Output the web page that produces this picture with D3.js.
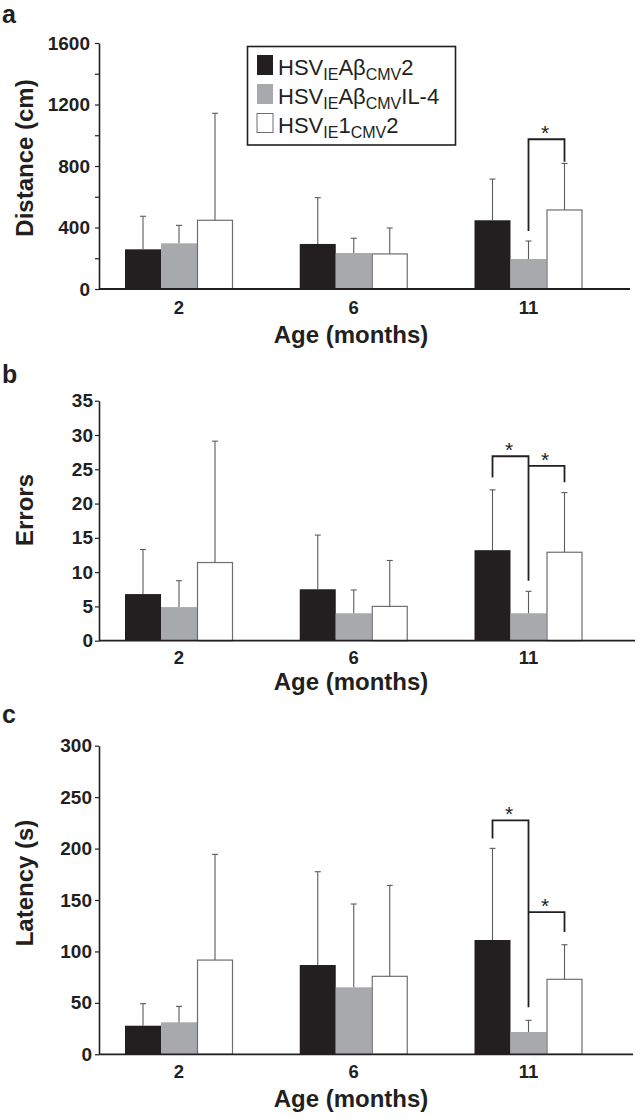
<!DOCTYPE html>
<html><head><meta charset="utf-8">
<script src="https://cdn.jsdelivr.net/npm/d3@7"></script>
<style>
body{margin:0;background:#fff}
svg{display:block}
text{font-family:"Liberation Sans",Arial,Helvetica,sans-serif;fill:#231f20}
</style>
</head><body>
<svg id="chart" width="640" height="1119"></svg>
<script>
// ---------------- data ----------------
const ages = ["2", "6", "11"];
const seriesColors = ["#231f20", "#a7a9ac", "#ffffff"];
// legend labels: [text, isSubscript]
const legendLabels = [
  [["HSV", 0], ["IE", 1], ["Aβ", 0], ["CMV", 1], ["2", 0]],
  [["HSV", 0], ["IE", 1], ["Aβ", 0], ["CMV", 1], ["IL-4", 0]],
  [["HSV", 0], ["IE", 1], ["1", 0], ["CMV", 1], ["2", 0]]
];

// Panel a — Distance (cm); rows = series, columns = ages
const distanceMean = [[258, 293, 447], [297, 234, 195], [447, 228, 514]];
const distanceSD   = [[215, 301, 268], [117, 96, 117], [696, 169, 303]];
const distanceTicks = [0, 200, 400, 600, 800, 1000, 1200, 1400, 1600];
const distanceLabeled = [0, 400, 800, 1200, 1600];
const distanceSig = [{age: "11", from: 1, to: 2, top: 974, legs: [377, 828]}];

// Panel b — Errors
const errorsMean = [[6.8, 7.5, 13.2], [4.9, 4.0, 4.0], [11.4, 5.0, 12.9]];
const errorsSD   = [[6.5, 7.9, 8.8], [3.85, 3.4, 3.2], [17.7, 6.7, 8.7]];
const errorsTicks = [0, 5, 10, 15, 20, 25, 30, 35];
const errorsSig = [
  {age: "11", from: 0, to: 1, top: 26.9, legs: [23.8, 8.75]},
  {age: "11", from: 1, to: 2, top: 25.5, legs: [25.5, 23.1]}
];

// Panel c — Latency (s)
const latencyMean = [[27.8, 86.8, 111.1], [31.1, 65.1, 21.7], [91.6, 75.8, 72.9]];
const latencySD   = [[21.4, 90.7, 89.1], [15.5, 81.0, 11.3], [102.8, 88.4, 33.6]];
const latencyTicks = [0, 50, 100, 150, 200, 250, 300];
const latencySig = [
  {age: "11", from: 0, to: 1, top: 227.4, legs: [209.9, 45.7]},
  {age: "11", from: 1, to: 2, top: 138.3, legs: [138.3, 118.9]}
];

// ---------------- layout ----------------
const svg = d3.select("#chart");
svg.append("rect").attr("width", 640).attr("height", 1119).attr("fill", "#fff");

const axisX = 99;
const x = d3.scaleBand().domain(ages).range([125, 582.5]).paddingInner(0.382).paddingOuter(0);
const xInner = d3.scaleBand().domain(d3.range(3)).range([0, x.bandwidth()]);

const panels = [
  {letter: "a", letterY: 23, title: "Distance (cm)", titleY: 158,
   mean: distanceMean, sd: distanceSD, max: 1600, ticks: distanceTicks,
   labeled: distanceLabeled, sig: distanceSig, top: 43, bottom: 289, xEnd: 630,
   tickPad: 5, xLabPad: 12, ageY: 342.7, legend: true},
  {letter: "b", letterY: 383, title: "Errors", titleY: 510,
   mean: errorsMean, sd: errorsSD, max: 35, ticks: errorsTicks,
   labeled: errorsTicks, sig: errorsSig, top: 400.7, bottom: 640.7, xEnd: 635,
   tickPad: 2, xLabPad: 10, ageY: 690},
  {letter: "c", letterY: 723, title: "Latency (s)", titleY: 883,
   mean: latencyMean, sd: latencySD, max: 300, ticks: latencyTicks,
   labeled: latencyTicks, sig: latencySig, top: 745.7, bottom: 1054.3, xEnd: 633,
   tickPad: 3, xLabPad: 11, ageY: 1106.5}
];

panels.forEach(p => {
  const g = svg.append("g");
  const y = d3.scaleLinear().domain([0, p.max]).range([p.bottom, p.top]);

  // panel letter
  g.append("text").attr("x", 2).attr("y", p.letterY)
    .attr("font-size", 25).attr("font-weight", "bold").text(p.letter);

  // y title
  g.append("text")
    .attr("transform", `translate(33,${p.titleY}) rotate(-90)`)
    .attr("text-anchor", "middle").attr("font-size", 24).attr("font-weight", "bold")
    .text(p.title);

  // bars
  const data = [];
  p.mean.forEach((row, si) => row.forEach((v, ai) => data.push({s: si, age: ages[ai], v, sd: p.sd[si][ai]})));

  g.selectAll("rect.bar").data(data).join("rect")
    .attr("class", "bar")
    .attr("x", d => x(d.age) + xInner(d.s) + (d.s === 2 ? 0.5 : 0))
    .attr("width", d => xInner.bandwidth() - (d.s === 2 ? 1 : 0))
    .attr("y", d => y(d.v))
    .attr("height", d => y(0) - y(d.v))
    .attr("fill", d => seriesColors[d.s])
    .attr("stroke", d => d.s === 2 ? "#6d6e70" : "none")
    .attr("stroke-width", 1.2);

  // error bars
  const eb = g.selectAll("g.eb").data(data).join("g").attr("class", "eb")
    .attr("stroke", "#5a5b5d").attr("stroke-width", 1.1);
  const cx = d => x(d.age) + xInner(d.s) + xInner.bandwidth() / 2;
  eb.append("line").attr("x1", cx).attr("x2", cx)
    .attr("y1", d => y(d.v)).attr("y2", d => y(d.v + d.sd));
  eb.append("line").attr("x1", d => cx(d) - 3).attr("x2", d => cx(d) + 3)
    .attr("y1", d => y(d.v + d.sd)).attr("y2", d => y(d.v + d.sd));

  // y axis
  const yAxis = d3.axisLeft(y).tickValues(p.ticks).tickSize(4).tickSizeOuter(0)
    .tickPadding(p.tickPad)
    .tickFormat(d => p.labeled.includes(d) ? d : "");
  const ya = g.append("g").attr("transform", `translate(${axisX},0)`).call(yAxis);
  ya.select(".domain").attr("stroke", "#231f20").attr("stroke-width", 1.6);
  ya.selectAll(".tick line").attr("stroke", "#231f20").attr("stroke-width", 1.2);
  ya.selectAll(".tick text").attr("font-size", 19).attr("font-weight", "bold")
    .attr("fill", "#231f20").attr("font-family", '"Liberation Sans",Arial,sans-serif');

  // x axis (labels) + baseline
  const xa = g.append("g").attr("transform", `translate(0,${y(0)})`)
    .call(d3.axisBottom(x).tickSize(0).tickPadding(p.xLabPad));
  xa.select(".domain").remove();
  xa.selectAll(".tick text").attr("font-size", 18.5).attr("font-weight", "bold")
    .attr("fill", "#231f20").attr("font-family", '"Liberation Sans",Arial,sans-serif');
  g.append("line").attr("x1", axisX).attr("x2", p.xEnd)
    .attr("y1", y(0)).attr("y2", y(0))
    .attr("stroke", "#231f20").attr("stroke-width", 1.8);

  // x title
  g.append("text").attr("x", 351).attr("y", p.ageY)
    .attr("text-anchor", "middle").attr("font-size", 24).attr("font-weight", "bold")
    .text("Age (months)");

  // significance brackets
  p.sig.forEach(s => {
    const x1 = x(s.age) + xInner(s.from) + xInner.bandwidth() / 2;
    const x2 = x(s.age) + xInner(s.to) + xInner.bandwidth() / 2;
    g.append("path")
      .attr("d", `M${x1},${y(s.legs[0])}V${y(s.top)}H${x2}V${y(s.legs[1])}`)
      .attr("fill", "none").attr("stroke", "#231f20").attr("stroke-width", 1.8);
    g.append("text").attr("x", (x1 + x2) / 2 - 1.5).attr("y", y(s.top) + 1)
      .attr("text-anchor", "middle").attr("font-size", 21).text("*");
  });

  // legend
  if (p.legend) {
    const lg = svg.append("g");
    lg.append("rect").attr("x", 247.5).attr("y", 46.5).attr("width", 208).attr("height", 98.5)
      .attr("fill", "#fff").attr("stroke", "#231f20").attr("stroke-width", 1.6);
    legendLabels.forEach((parts, i) => {
      const rowY = 75 + i * 29;
      lg.append("rect").attr("x", 257).attr("y", rowY - 20 + (i === 2 ? 0.5 : 0))
        .attr("width", 16).attr("height", 20 - (i === 2 ? 1 : 0))
        .attr("fill", seriesColors[i])
        .attr("stroke", i === 2 ? "#6d6e70" : "none").attr("stroke-width", 1);
      const t = lg.append("text").attr("x", 278).attr("y", rowY).attr("font-size", 22);
      let prevSub = 0;
      parts.forEach(([txt, sub]) => {
        const dy = sub && !prevSub ? 5 : (!sub && prevSub ? -5 : 0);
        t.append("tspan").attr("dy", dy).attr("font-size", sub ? 16 : 22).text(txt);
        prevSub = sub;
      });
    });
  }
});
</script>
</body></html>
